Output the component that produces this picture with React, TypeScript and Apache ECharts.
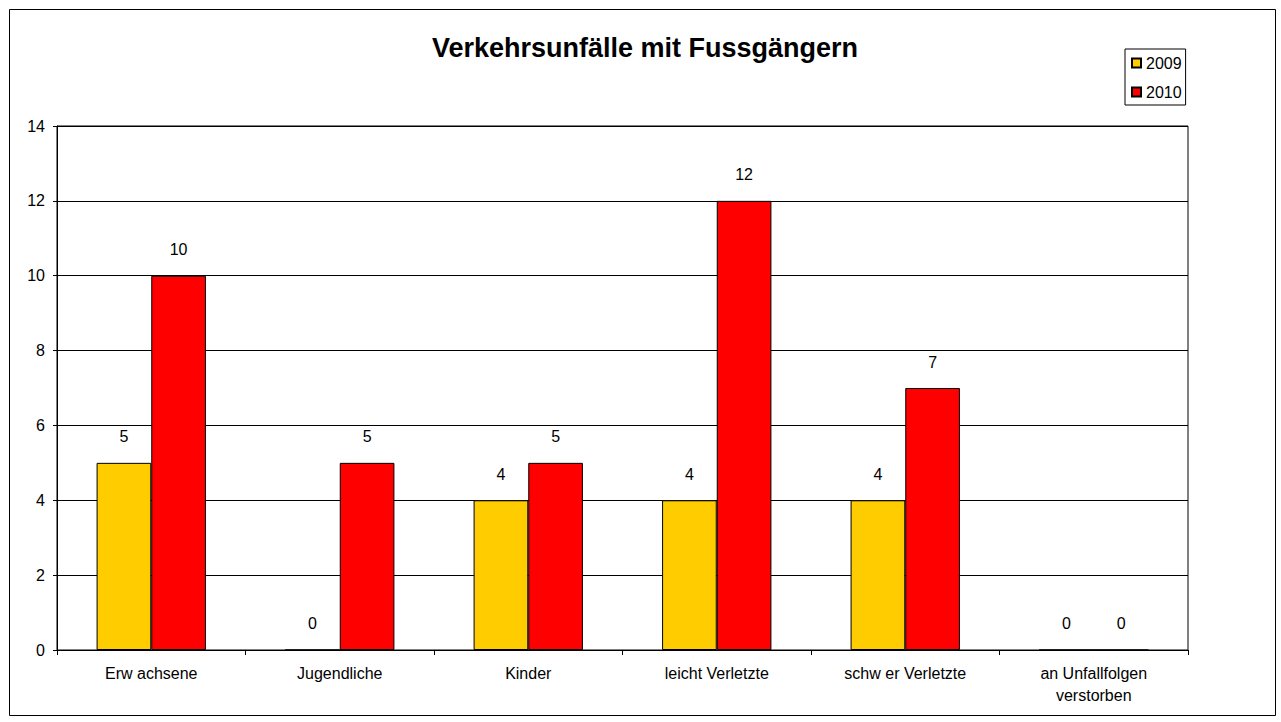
import React, { useEffect, useRef } from "react";
import * as echarts from "echarts";

const categories = [
  "Erw achsene",
  "Jugendliche",
  "Kinder",
  "leicht Verletzte",
  "schw er Verletzte",
  "an Unfallfolgen\nverstorben",
];
const values2009 = [5, 0, 4, 4, 4, 0];
const values2010 = [10, 5, 5, 12, 7, 0];
const seriesNames = ["2009", "2010"];
const titleText = "Verkehrsunfälle mit Fussgängern";

const FONT = "'Liberation Sans', Arial, sans-serif";

export default function App() {
  const ref = useRef<HTMLDivElement>(null);
  useEffect(() => {
    document.body.style.margin = "0";
    const chart = echarts.init(ref.current!, null, { renderer: "svg" });
    const labelCfg = {
      show: true,
      position: "top" as const,
      distance: 18,
      color: "#000",
      fontSize: 16,
      fontFamily: FONT,
    };
    chart.setOption({
      animation: false,
      backgroundColor: "#fff",
      textStyle: { fontFamily: FONT },
      graphic: [
        {
          type: "rect",
          shape: { x: 9.5, y: 9.5, width: 1266, height: 706 },
          style: { fill: "none", stroke: "#000", lineWidth: 1 },
          silent: true,
        },
        {
          type: "text",
          x: 645,
          y: 48,
          style: {
            text: titleText,
            fontSize: 27,
            fontWeight: "bold",
            fontFamily: FONT,
            fill: "#000",
            align: "center",
            verticalAlign: "middle",
          },
        },
      ],
      legend: {
        orient: "vertical",
        left: 1125,
        top: 49,
        data: seriesNames,
        icon: "rect",
        itemWidth: 9,
        itemHeight: 9,
        itemGap: 13,
        padding: [6, 4, 5, 6],
        borderColor: "#000",
        borderWidth: 1,
        textStyle: { fontSize: 16, fontFamily: FONT, color: "#000", padding: [0, 0, 0, 0] },
      },
      grid: {
        left: 57,
        right: 1281 - 1188,
        top: 126,
        bottom: 722 - 650,
        show: true,
        borderColor: "#000",
        borderWidth: 1,
        containLabel: false,
      },
      xAxis: {
        type: "category",
        data: categories,
        axisLine: { lineStyle: { color: "#000", width: 1 } },
        axisTick: { show: true, alignWithLabel: false, length: 5, lineStyle: { color: "#000" } },
        axisLabel: {
          color: "#000",
          fontSize: 16,
          fontFamily: FONT,
          margin: 12,
          lineHeight: 22,
          interval: 0,
        },
      },
      yAxis: {
        type: "value",
        min: 0,
        max: 14,
        interval: 2,
        axisLine: { show: true, lineStyle: { color: "#000", width: 1 } },
        axisTick: { show: true, length: 4, lineStyle: { color: "#000" } },
        axisLabel: { color: "#000", fontSize: 16, fontFamily: FONT, margin: 12 },
        splitLine: { show: true, lineStyle: { color: "#000", width: 1 } },
      },
      series: [
        {
          name: seriesNames[0],
          type: "bar",
          data: values2009,
          barGap: "0%",
          barCategoryGap: "42%",
          itemStyle: { color: "#FFCC00", borderColor: "#000", borderWidth: 1 },
          label: labelCfg,
        },
        {
          name: seriesNames[1],
          type: "bar",
          data: values2010,
          barGap: "0%",
          barCategoryGap: "42%",
          itemStyle: { color: "#FF0000", borderColor: "#000", borderWidth: 1 },
          label: labelCfg,
        },
      ],
    });
    return () => chart.dispose();
  }, []);
  return <div ref={ref} style={{ width: 1281, height: 722 }} />;
}
